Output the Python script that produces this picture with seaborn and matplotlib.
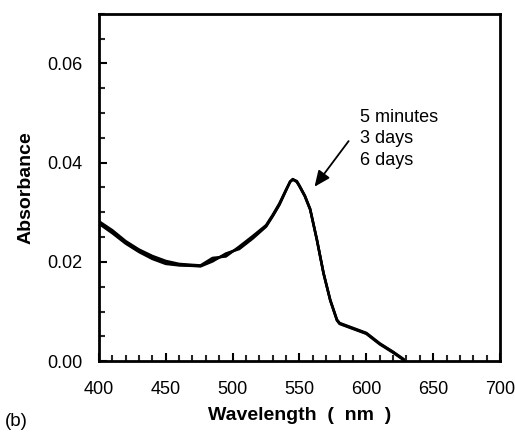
import matplotlib
matplotlib.use("Agg")
import matplotlib.pyplot as plt
import seaborn as sns
import pandas as pd
from matplotlib.ticker import MultipleLocator

sns.set_theme(style="white")
plt.rcParams['font.family'] = ['Liberation Sans', 'DejaVu Sans']
plt.rcParams['text.color'] = 'black'

wavelength = [400, 410, 420, 430, 440, 450, 460, 470, 476, 485, 495, 505, 515,
              525, 530, 535, 540, 543, 545, 548, 550, 554, 558, 563, 568, 573,
              578, 580, 590, 600, 610, 620, 628]
abs_5min = [0.0279, 0.0260, 0.0239, 0.0222, 0.0208, 0.0198, 0.0194, 0.0193, 0.0192,
            0.0203, 0.0215, 0.0228, 0.0249, 0.0272, 0.0293, 0.0316, 0.0345, 0.0362,
            0.0367, 0.0362, 0.0353, 0.0333, 0.0306, 0.0245, 0.0177, 0.0123, 0.0083,
            0.0076, 0.0066, 0.0056, 0.0035, 0.0018, 0.0003]
abs_3days = [0.0282, 0.0264, 0.0242, 0.0225, 0.0212, 0.0202, 0.0196, 0.0194, 0.0193,
             0.0208, 0.0211, 0.0231, 0.0252, 0.0274, 0.0295, 0.0318, 0.0346, 0.0361,
             0.0366, 0.0361, 0.0352, 0.0332, 0.0305, 0.0244, 0.0176, 0.0122, 0.0082,
             0.0075, 0.0065, 0.0055, 0.0034, 0.0017, 0.0002]
abs_6days = [0.0277, 0.0258, 0.0237, 0.0220, 0.0206, 0.0196, 0.0193, 0.0192, 0.0191,
             0.0201, 0.0217, 0.0226, 0.0247, 0.0271, 0.0292, 0.0315, 0.0344, 0.0362,
             0.0366, 0.0363, 0.0354, 0.0334, 0.0307, 0.0246, 0.0178, 0.0124, 0.0084,
             0.0077, 0.0067, 0.0057, 0.0036, 0.0019, 0.0004]
series_names = ["5 minutes", "3 days", "6 days"]

df = pd.DataFrame({
    "Wavelength": wavelength * 3,
    "Absorbance": abs_5min + abs_3days + abs_6days,
    "Time": sum([[n] * len(wavelength) for n in series_names], []),
})

fig = plt.figure(figsize=(5.15, 4.32), dpi=100)
ax = fig.add_axes([0.192, 0.164, 0.779, 0.804])
sns.lineplot(data=df, x="Wavelength", y="Absorbance", units="Time", estimator=None,
             color="black", linewidth=1.8, ax=ax, legend=False)

ax.set_xlim(400, 700)
ax.set_ylim(0, 0.07)
ax.xaxis.set_major_locator(MultipleLocator(50))
ax.xaxis.set_minor_locator(MultipleLocator(10))
ax.yaxis.set_major_locator(MultipleLocator(0.02))
ax.yaxis.set_minor_locator(MultipleLocator(0.005))
ax.yaxis.set_major_formatter(plt.FuncFormatter(lambda v, p: f"{v:.2f}"))
ax.tick_params(axis="both", which="major", direction="in", length=6, width=1.5,
               labelsize=13, colors="black", bottom=True, left=True)
ax.tick_params(axis="both", which="minor", direction="in", length=4, width=1.5,
               bottom=True, left=True)
ax.tick_params(axis="x", pad=14)
ax.tick_params(axis="y", pad=12)
for s in ax.spines.values():
    s.set_color("black")
    s.set_linewidth(2)

ax.set_xlabel("Wavelength  (  nm  )", fontsize=14, fontweight="bold",
              labelpad=7, color="black")
ax.set_ylabel("Absorbance", fontsize=14, fontweight="bold", labelpad=9,
              color="black")

ax.text(595, 0.0492, "5 minutes", fontsize=13, va="center", ha="left", color="black")
ax.text(595, 0.0448, "3 days", fontsize=13, va="center", ha="left", color="black")
ax.text(595, 0.0404, "6 days", fontsize=13, va="center", ha="left", color="black")
ax.annotate("", xy=(560, 0.0347), xytext=(588, 0.0448),
            arrowprops=dict(arrowstyle="-|>,head_length=0.8,head_width=0.35",
                            color="black", lw=1.3))

fig.text(0.01, 0.005, "(b)", fontsize=13.5, ha="left", va="bottom", color="black")

fig.savefig("out.png", dpi=100, facecolor="white")
